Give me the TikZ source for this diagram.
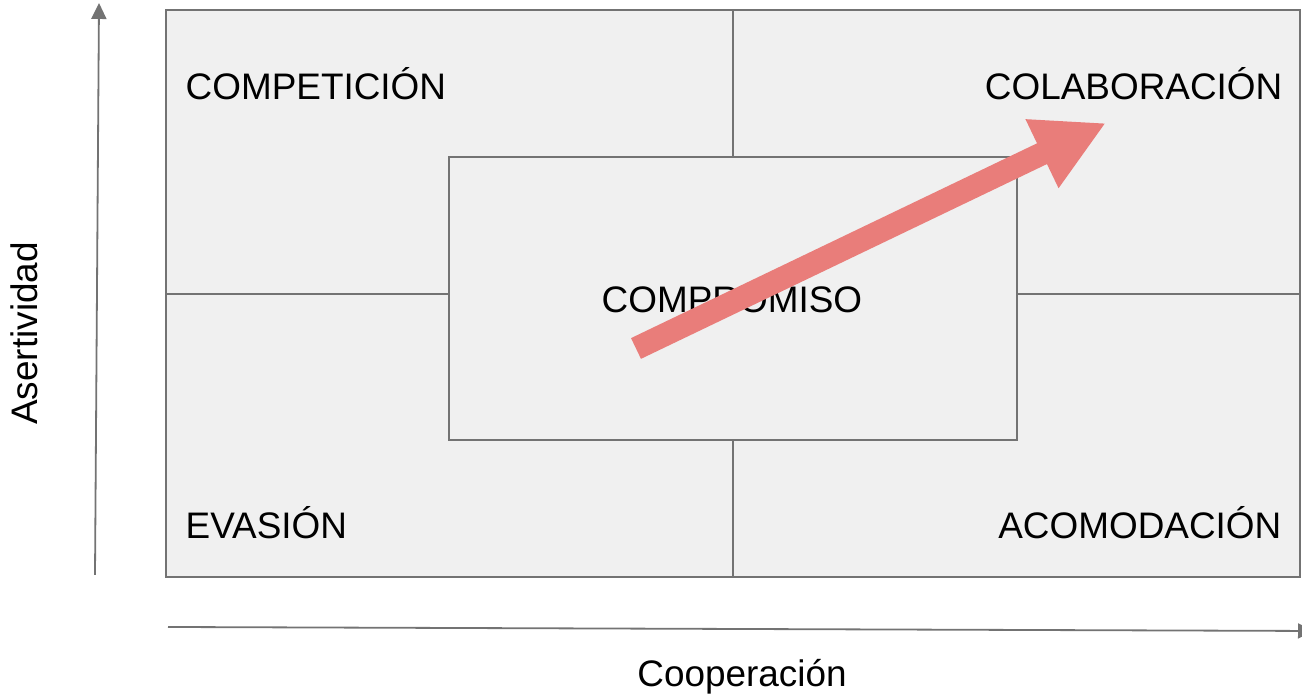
\documentclass[tikz,border=0pt]{standalone}
\usepackage{fontspec}
\setmainfont{Liberation Sans}
\usepackage{tikz}
\usetikzlibrary{arrows.meta}

\definecolor{panelgray}{HTML}{F0F0F0}
\definecolor{linegray}{HTML}{737373}
\definecolor{arrowred}{HTML}{E97D7A}

\tikzset{
  panel/.style={fill=panelgray, draw=linegray, line width=0.02cm},
  axisline/.style={draw=linegray, line width=0.018cm,
    -{Triangle[length=0.16cm, width=0.15cm]}},
  label/.style={font=\fontsize{10.5}{12}\selectfont, inner sep=0pt}
}

\begin{document}
\begin{tikzpicture}
    \useasboundingbox (0, 0) rectangle (13.02, 6.94);

    % quadrants
    \draw [panel] (1.66, 1.17) rectangle (13.00, 6.84);
    \draw [draw=linegray, line width=0.02cm] (7.33, 1.17) -- (7.33, 6.84);
    \draw [draw=linegray, line width=0.02cm] (1.66, 4.00) -- (13.00, 4.00);

    % middle box
    \draw [panel] (4.49, 2.54) rectangle (10.17, 5.37);

    \node [label, anchor=base west] (comp) at (1.85, 5.94) {COMPETICIÓN};
    \node [label, anchor=base east] (colab) at (12.83, 5.94) {COLABORACIÓN};
    \node [label, anchor=base west] (evas) at (1.85, 1.55) {EVASIÓN};
    \node [label, anchor=base east] (acom) at (12.82, 1.55) {ACOMODACIÓN};
    \node [label, anchor=base west] (compro) at (6.01, 3.81) {COMPROMISO};

    % axes
    \coordinate (yfrom) at (0.95, 1.19);
    \coordinate (yto) at (0.99, 6.91);
    \draw [axisline] (yfrom) -- (yto);
    \node [label, rotate=90, anchor=base] (asert) at (0.375, 3.605) {Asertividad};

    \coordinate (xfrom) at (1.68, 0.67);
    \coordinate (xto) at (13.14, 0.63);
    \draw [axisline] (xfrom) -- (xto);
    \node [label, anchor=base] (coop) at (7.42, 0.07) {Cooperación};

    % the red arrow
    \coordinate (start) at (6.36, 3.455);
    \coordinate (goal) at (11.06, 5.71);
    \draw [arrowred, line width=0.23cm,
      -{Triangle[length=0.71cm, width=0.71cm]}] (start) -- (goal);

\end{tikzpicture}
\end{document}
